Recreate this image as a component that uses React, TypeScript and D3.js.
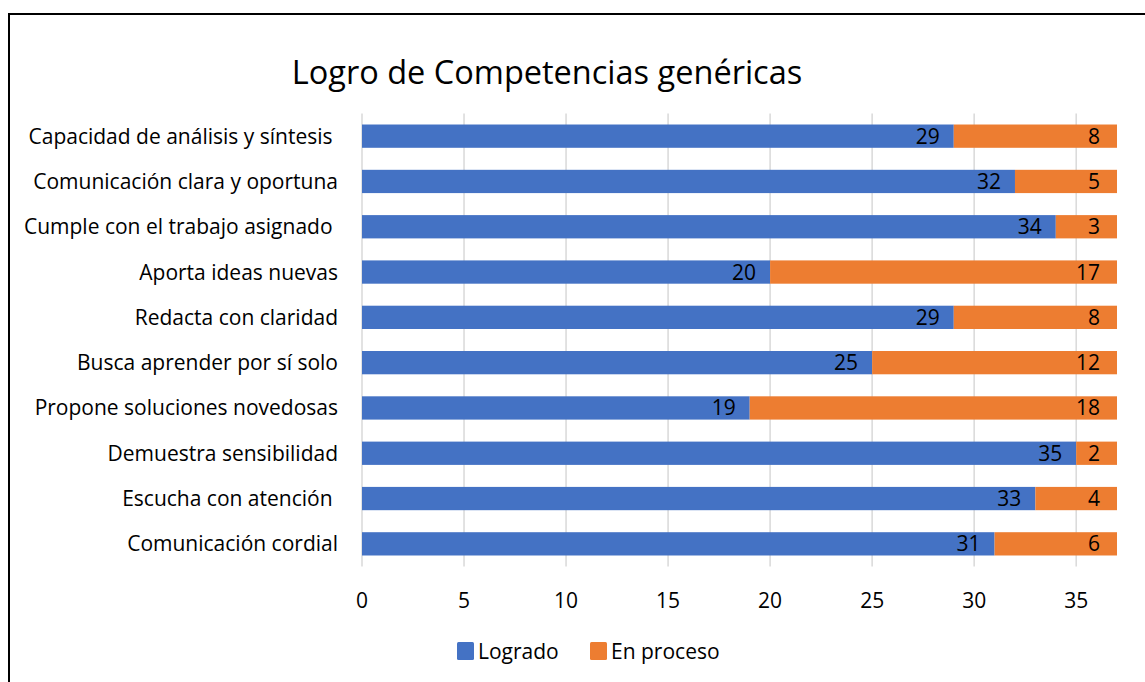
import React from 'react';
import * as d3 from 'd3';

// Logro de Competencias genéricas: stacked horizontal bars, Logrado + En proceso.

const categories = [
  'Capacidad de análisis y síntesis ',
  'Comunicación clara y oportuna',
  'Cumple con el trabajo asignado ',
  'Aporta ideas nuevas',
  'Redacta con claridad',
  'Busca aprender por sí solo',
  'Propone soluciones novedosas',
  'Demuestra sensibilidad',
  'Escucha con atención ',
  'Comunicación cordial',
];
const logrado = [29, 32, 34, 20, 29, 25, 19, 35, 33, 31];
const enProceso = [8, 5, 3, 17, 8, 12, 18, 2, 4, 6];
const xTicks = [0, 5, 10, 15, 20, 25, 30, 35];
const seriesNames = ['Logrado', 'En proceso'];

const WIDTH = 1145;
const HEIGHT = 682;
const COLORS = ['#4472C4', '#ED7D31'];
const FONT = '"Open Sans", Lato, sans-serif';
const FS = 21;

export default function App() {
  const x = d3.scaleLinear().domain([0, 37]).range([362, 1117]);
  const y = d3
    .scaleBand<string>()
    .domain(categories)
    .range([113.5, 566.5])
    .paddingInner(0.486)
    .paddingOuter(0.243);

  const rows = categories.map((c, i) => ({
    name: c,
    a: logrado[i],
    b: enProceso[i],
  }));

  return (
    <svg
      width={WIDTH}
      height={HEIGHT}
      style={{ position: 'absolute', left: 0, top: 0, fontFamily: FONT }}
    >
      <rect width={WIDTH} height={HEIGHT} fill="#fff" />
      <rect
        x={9}
        y={14}
        width={WIDTH + 20}
        height={HEIGHT + 20}
        fill="none"
        stroke="#000"
        strokeWidth={2}
      />

      <text x={547} y={84} textAnchor="middle" fontSize={32.5} fill="#000">
        Logro de Competencias genéricas
      </text>

      {/* gridlines */}
      {xTicks.map((t) => (
        <line
          key={t}
          x1={x(t)}
          x2={x(t)}
          y1={113.5}
          y2={566.5}
          stroke="#d9d9d9"
          strokeWidth={1.5}
        />
      ))}

      {/* bars */}
      {rows.map((r) => {
        const y0 = y(r.name)!;
        const h = y.bandwidth();
        const cy = y0 + h / 2;
        return (
          <g key={r.name}>
            <rect x={x(0)} y={y0} width={x(r.a) - x(0)} height={h} fill={COLORS[0]} />
            <rect x={x(r.a)} y={y0} width={x(r.a + r.b) - x(r.a)} height={h} fill={COLORS[1]} />
            <text x={x(r.a) - 14} y={cy + 7.5} textAnchor="end" fontSize={FS} fill="#000">
              {r.a}
            </text>
            <text x={x(r.a + r.b) - 17} y={cy + 7.5} textAnchor="end" fontSize={FS} fill="#000">
              {r.b}
            </text>
            <text
              x={338}
              y={cy + 7.5}
              textAnchor="end"
              fontSize={FS}
              fill="#000"
              style={{ whiteSpace: 'pre' }}
            >
              {r.name}
            </text>
          </g>
        );
      })}

      {/* x tick labels */}
      {xTicks.map((t) => (
        <text key={t} x={x(t)} y={608} textAnchor="middle" fontSize={FS} fill="#000">
          {t}
        </text>
      ))}

      {/* legend */}
      {seriesNames.map((s, i) => {
        const lx = [457, 590][i];
        return (
          <g key={s}>
            <rect x={lx} y={642} width={17} height={18} rx={1.5} fill={COLORS[i]} />
            <text x={lx + 21} y={658.5} fontSize={FS} fill="#000">
              {s}
            </text>
          </g>
        );
      })}
    </svg>
  );
}
